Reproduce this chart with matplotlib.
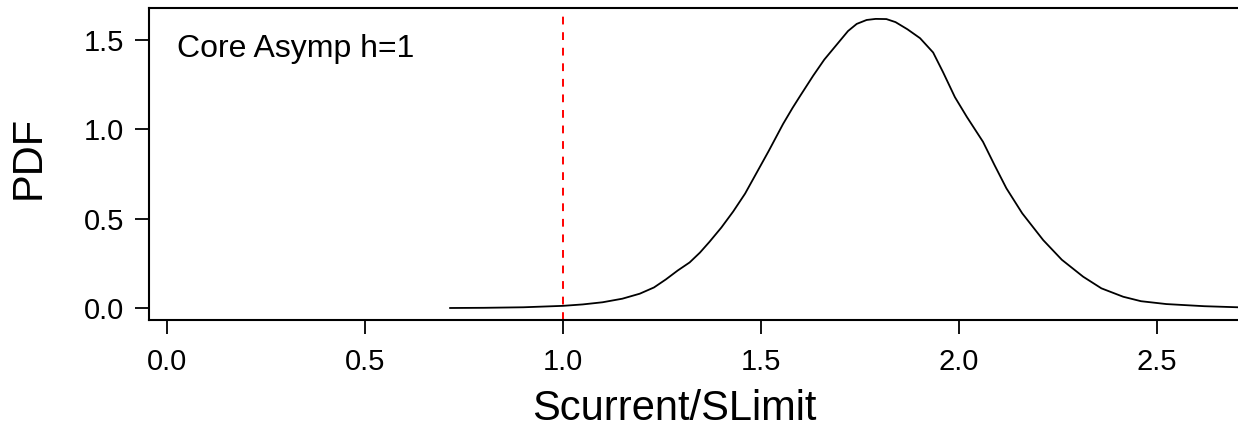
import numpy as np
import matplotlib
matplotlib.use('Agg')
import matplotlib.pyplot as plt

plt.rcParams['font.family'] = ['Liberation Sans', 'DejaVu Sans']

# density of Scurrent/SLimit
ratio = [0.715, 0.80, 0.90, 1.00, 1.05, 1.10, 1.15, 1.194, 1.23, 1.26,
         1.29, 1.32, 1.346, 1.37, 1.40, 1.43, 1.46, 1.49, 1.52, 1.556,
         1.58, 1.60, 1.632, 1.66, 1.69, 1.72, 1.742, 1.767, 1.79, 1.817,
         1.84, 1.87, 1.902, 1.935, 1.96, 1.99, 2.02, 2.061, 2.09, 2.12,
         2.16, 2.213, 2.26, 2.314, 2.36, 2.415, 2.46, 2.524, 2.62, 2.705]
pdf = [0.0, 0.001, 0.004, 0.012, 0.020, 0.032, 0.052, 0.080, 0.115, 0.16,
       0.21, 0.255, 0.31, 0.37, 0.45, 0.54, 0.64, 0.76, 0.88, 1.03,
       1.12, 1.19, 1.30, 1.39, 1.47, 1.55, 1.59, 1.612, 1.618, 1.617,
       1.60, 1.56, 1.51, 1.43, 1.32, 1.18, 1.07, 0.93, 0.80, 0.67,
       0.53, 0.38, 0.27, 0.175, 0.11, 0.063, 0.038, 0.022, 0.010, 0.004]
limit = 1.0
xticks = [0.0, 0.5, 1.0, 1.5, 2.0, 2.5]
yticks = [0.0, 0.5, 1.0, 1.5]

fig = plt.figure(figsize=(12.38, 4.30), dpi=100)
ax = fig.add_axes([149/1238, 1 - 320/430, 1 - 149/1238, 312/430])

ax.plot(ratio, pdf, color='black', lw=1.3)
ax.axvline(limit, color='red', lw=1.4, dashes=(4, 4))

ax.set_xlim(-0.0455, 2.705)
ax.set_ylim(-0.0672, 1.679)
ax.set_xticks(xticks)
ax.set_yticks(yticks)
ax.set_xticklabels(['%.1f' % v for v in xticks])
ax.set_yticklabels(['%.1f' % v for v in yticks])
ax.tick_params(length=10, width=1.3, labelsize=21, color='black')
ax.tick_params(axis='x', pad=10)
ax.tick_params(axis='y', pad=8)

for s in ['left', 'bottom', 'top']:
    ax.spines[s].set_linewidth(1.5)
ax.spines['right'].set_visible(False)

ax.set_xlabel('Scurrent/SLimit', fontsize=30)
ax.xaxis.set_label_coords(0.4826, -0.322)
ax.xaxis.label.set_va('baseline')
ax.set_ylabel('PDF', fontsize=30)
ax.yaxis.set_label_coords(-0.1102, 0.521)
ax.yaxis.label.set_va('center')
ax.text(0.0257, 0.843, 'Core Asymp h=1', transform=ax.transAxes,
        fontsize=23, va='baseline', ha='left')

plt.savefig('out.png', dpi=100)
